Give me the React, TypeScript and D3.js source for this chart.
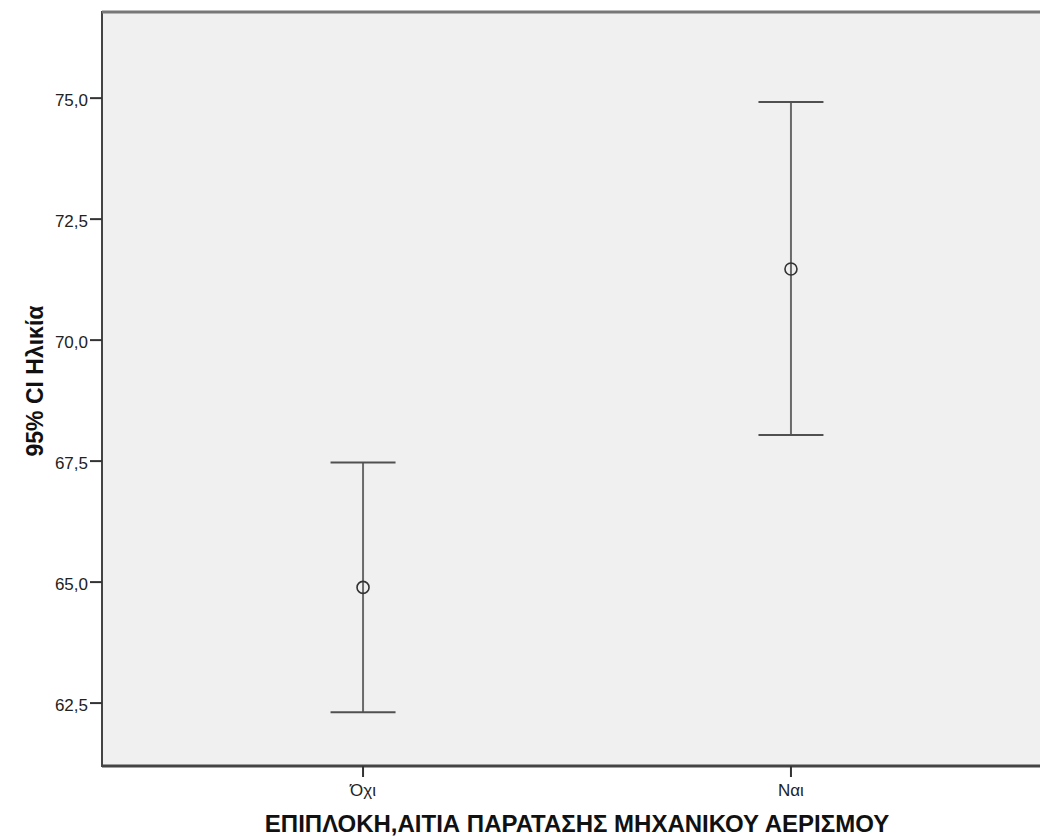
import React from "react";
import * as d3 from "d3";

// Age by prolonged-ventilation complication: mean with 95% confidence interval
const categories: string[] = ["Όχι", "Ναι"];
const means: number[] = [64.89, 71.47];
const lowerCI: number[] = [62.31, 68.04];
const upperCI: number[] = [67.47, 74.92];
const yTicks: number[] = [62.5, 65.0, 67.5, 70.0, 72.5, 75.0];

const xTitle = "ΕΠΙΠΛΟΚΗ,ΑΙΤΙΑ ΠΑΡΑΤΑΣΗΣ ΜΗΧΑΝΙΚΟΥ ΑΕΡΙΣΜΟΥ";
const yTitle = "95% CI Ηλικία";

const W = 1040;
const H = 840;
const plot = { left: 102, top: 12, right: 1052, bottom: 766 };

export default function App() {
  const y = d3.scaleLinear().domain([61.2, 76.78]).range([plot.bottom, plot.top]);
  const x = d3
    .scalePoint<string>()
    .domain(categories)
    .range([plot.left, plot.right])
    .padding(0.61);

  const fmt = (v: number) => v.toFixed(1).replace(".", ",");
  const capHalf = 32.5;
  const font = "Arial, 'Liberation Sans', sans-serif";

  return (
    <svg
      width={W}
      height={H}
      style={{ position: "absolute", left: 0, top: 0, display: "block" }}
      fontFamily={font}
    >
      <rect x={0} y={0} width={W} height={H} fill="#ffffff" />
      <rect
        x={plot.left}
        y={plot.top}
        width={plot.right - plot.left}
        height={plot.bottom - plot.top}
        fill="#f0f0f0"
        stroke="#444"
        strokeWidth={2}
      />
      <line x1={plot.left} x2={W} y1={plot.top} y2={plot.top} stroke="#777" strokeWidth={3} />
      <line x1={plot.left} x2={W} y1={plot.bottom} y2={plot.bottom} stroke="#444" strokeWidth={3} />

      {/* y axis ticks and labels */}
      {yTicks.map((t) => (
        <g key={t}>
          <line x1={plot.left - 12} x2={plot.left} y1={y(t)} y2={y(t)} stroke="#333" strokeWidth={2} />
          <text x={plot.left - 14} y={y(t) + 8} textAnchor="end" fontSize={17} fill="#222">
            {fmt(t)}
          </text>
        </g>
      ))}

      {/* x axis ticks and labels */}
      {categories.map((c) => (
        <g key={c}>
          <line x1={x(c)} x2={x(c)} y1={plot.bottom} y2={plot.bottom + 11} stroke="#333" strokeWidth={2} />
          <text x={x(c)} y={plot.bottom + 30} textAnchor="middle" fontSize={17} fill="#222">
            {c}
          </text>
        </g>
      ))}

      {/* error bars */}
      {categories.map((c, i) => {
        const cx = x(c) as number;
        return (
          <g key={c}>
            <line x1={cx} x2={cx} y1={y(upperCI[i])} y2={y(lowerCI[i])} stroke="#6a6a6a" strokeWidth={2} />
            <line x1={cx - capHalf} x2={cx + capHalf} y1={y(upperCI[i])} y2={y(upperCI[i])} stroke="#505050" strokeWidth={2} />
            <line x1={cx - capHalf} x2={cx + capHalf} y1={y(lowerCI[i])} y2={y(lowerCI[i])} stroke="#505050" strokeWidth={2} />
            <circle cx={cx} cy={y(means[i])} r={6} fill="none" stroke="#333" strokeWidth={1.6} />
          </g>
        );
      })}

      {/* axis titles */}
      <text x={577} y={832} textAnchor="middle" fontSize={24} fontWeight="bold" fill="#111">
        {xTitle}
      </text>
      <text
        transform={`translate(43, ${(plot.top + plot.bottom) / 2 - 8}) rotate(-90)`}
        textAnchor="middle"
        fontSize={23}
        fontWeight="bold"
        fill="#111"
      >
        {yTitle}
      </text>
    </svg>
  );
}
